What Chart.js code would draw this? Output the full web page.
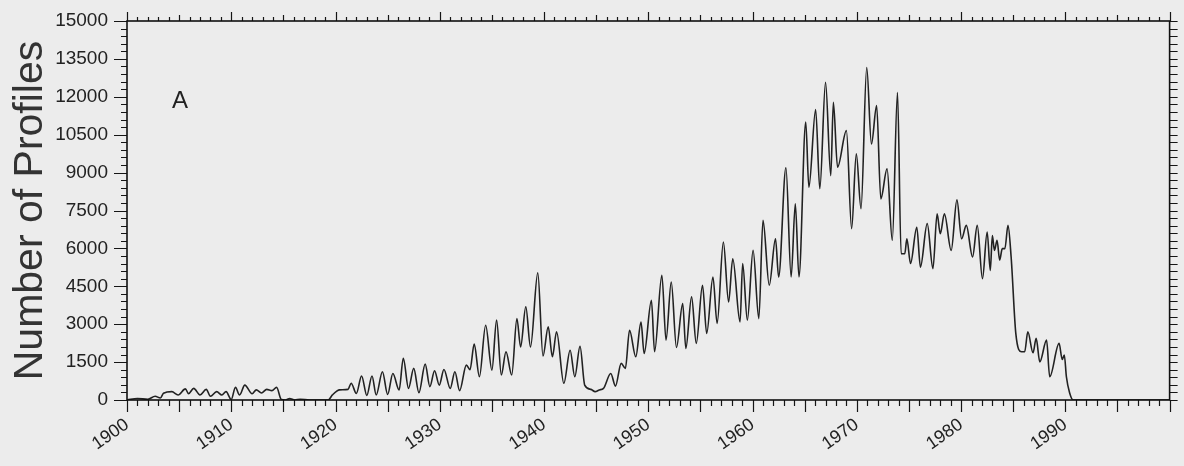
<!DOCTYPE html>
<html>
<head>
<meta charset="utf-8">
<title>Number of Profiles</title>
<script src="https://cdn.jsdelivr.net/npm/chart.js@4.4.1/dist/chart.umd.min.js"></script>
<style>
  html, body { margin: 0; padding: 0; background: #ececec; }
  #wrap { width: 1184px; height: 466px; }
</style>
</head>
<body>
<div id="wrap"><canvas id="chart" width="1184" height="466"></canvas></div>
<script>
// Profile counts, split by period (decimal years / counts)
var earlyYears = [1900.0, 1901.0, 1902.0, 1902.7, 1903.2, 1903.5, 1904.3, 1904.9, 1905.6, 1905.9,
  1906.4, 1907.0, 1907.6, 1908.0, 1908.6, 1909.1, 1909.5, 1910.0, 1910.4, 1910.8,
  1911.3, 1912.0, 1912.4, 1912.9, 1913.4, 1913.9, 1914.35, 1914.8, 1915.2, 1915.6,
  1916.1, 1916.6, 1917.5, 1919.3, 1919.7, 1920.4, 1921.2, 1921.5, 1922.0, 1922.5,
  1923.0, 1923.5, 1923.9, 1924.5, 1925.0, 1925.5, 1926.1];
var earlyCounts = [0, 60, 30, 150, 80, 270, 330, 200, 440, 250,
  460, 200, 420, 150, 330, 200, 330, 20, 500, 200,
  590, 250, 400, 280, 420, 370, 500, 20, 0, 60,
  0, 30, 0, 0, 200, 400, 420, 660, 260, 950,
  180, 950, 200, 1120, 220, 1050, 400];

var interwarYears = [1926.5, 1927.0, 1927.5, 1928.0, 1928.6, 1929.05, 1929.5, 1929.95, 1930.4, 1931.0,
  1931.45, 1931.9, 1932.55, 1932.9, 1933.3, 1933.8, 1934.4, 1935.0, 1935.45, 1935.9,
  1936.35, 1936.9, 1937.4, 1937.75, 1938.25, 1938.7, 1939.4, 1939.9, 1940.4, 1940.8,
  1941.2, 1941.9, 1942.5, 1942.95, 1943.45, 1943.9, 1944.5, 1944.9, 1945.3, 1945.7];
var interwarCounts = [1650, 460, 1250, 290, 1420, 530, 1160, 590, 1210, 460,
  1120, 370, 1380, 1200, 2210, 920, 2960, 1180, 3160, 990,
  1910, 990, 3220, 2100, 3690, 2100, 5030, 1740, 2900, 1710,
  2700, 660, 1970, 920, 2130, 590, 420, 330, 400, 460];

var postwarYears = [1946.4, 1946.85, 1947.4, 1947.8, 1948.2, 1948.8, 1949.3, 1949.6, 1950.3, 1950.6,
  1951.3, 1951.7, 1952.2, 1952.7, 1953.3, 1953.6, 1954.15, 1954.6, 1955.2, 1955.6,
  1956.2, 1956.6, 1957.2, 1957.7, 1958.1, 1958.8, 1959.05, 1959.5, 1960.05, 1960.6,
  1961.0, 1961.6, 1962.2, 1962.5, 1963.2, 1963.7, 1964.1, 1964.45];
var postwarCounts = [1050, 550, 1450, 1250, 2760, 1710, 3090, 1840, 3950, 1910,
  4940, 2370, 4670, 2080, 3820, 2040, 4080, 2240, 4540, 2630,
  4870, 3030, 6250, 3880, 5590, 3090, 5400, 3160, 5920, 3220,
  7110, 4540, 6380, 4870, 9190, 4870, 7770, 4870];

var peakYears = [1965.1, 1965.4, 1966.05, 1966.45, 1967.0, 1967.5, 1967.75, 1968.15, 1969.0, 1969.5,
  1969.95, 1970.4, 1970.95, 1971.4, 1971.9, 1972.3, 1972.9, 1973.4, 1973.9];
var peakCounts = [11000, 8420, 11500, 8360, 12570, 8880, 11780, 9210, 10660, 6780,
  9740, 7570, 13160, 10130, 11650, 7960, 9150, 6320, 12170];

var lateYears = [1974.25, 1974.6, 1974.8, 1975.15, 1975.75, 1976.1, 1976.75, 1977.3, 1977.7, 1978.0,
  1978.4, 1979.05, 1979.6, 1980.05, 1980.5, 1981.1, 1981.55, 1982.05, 1982.5, 1982.8,
  1983.0, 1983.2, 1983.45, 1983.7, 1983.95, 1984.2, 1984.5, 1984.8, 1985.25, 1985.8,
  1986.1, 1986.4, 1986.9, 1987.2, 1987.55, 1988.2, 1988.5, 1989.4, 1989.7, 1989.9,
  1990.1, 1990.4, 1990.75, 1995.0, 2000.0];
var lateCounts = [5790, 5790, 6380, 5400, 6840, 5260, 6980, 5200, 7370, 6580,
  7370, 5920, 7920, 6380, 6910, 5660, 6910, 4800, 6650, 5130,
  6510, 5920, 6320, 5530, 5990, 5990, 6910, 5660, 2630, 1910,
  1910, 2700, 1870, 2440, 1510, 2370, 920, 2240, 1600, 1780,
  920, 300, 0, 0, 0];

// Axis ticks
var yearMin = 1900, yearMax = 2000, decadeStep = 10;
var countMin = 0, countMax = 15000, countStep = 1500, countMinorStep = 300;
var panelLabel = "A";
var yTitle = "Number of Profiles";

var FONT = '"Liberation Sans", Arial, Helvetica, sans-serif';

function toPoints(years, counts) {
  var pts = [];
  for (var i = 0; i < years.length; i++) pts.push({ x: years[i], y: counts[i] });
  return pts;
}

var series = []
  .concat(toPoints(earlyYears, earlyCounts))
  .concat(toPoints(interwarYears, interwarCounts))
  .concat(toPoints(postwarYears, postwarCounts))
  .concat(toPoints(peakYears, peakCounts))
  .concat(toPoints(lateYears, lateCounts));

// Frame, tick marks on all four sides and the panel letter
var framePlugin = {
  id: "frame",
  afterDraw: function (chart) {
    var ctx = chart.ctx;
    var a = chart.chartArea;
    var xs = chart.scales.x, ys = chart.scales.y;
    ctx.save();
    ctx.strokeStyle = "#151515";
    ctx.lineWidth = 1.2;
    ctx.beginPath();
    for (var yr = yearMin; yr <= yearMax; yr++) {
      var px = Math.round(xs.getPixelForValue(yr)) + 0.5;
      var lb = yr % 5 === 0 ? 12 : 6;
      var lt = yr % 10 === 0 ? 9 : (yr % 5 === 0 ? 6 : 4);
      ctx.moveTo(px, a.bottom); ctx.lineTo(px, a.bottom + lb);
      ctx.moveTo(px, a.top); ctx.lineTo(px, a.top - lt);
    }
    for (var v = countMin; v <= countMax; v += countMinorStep) {
      var py = Math.round(ys.getPixelForValue(v)) + 0.5;
      var ll = v % countStep === 0 ? 13 : 6;
      ctx.moveTo(a.left, py); ctx.lineTo(a.left - ll, py);
      ctx.moveTo(a.right, py); ctx.lineTo(a.right + 8, py);
    }
    ctx.stroke();
    ctx.lineWidth = 1.6;
    ctx.strokeStyle = "#111";
    ctx.strokeRect(a.left, a.top, a.right - a.left, a.bottom - a.top);
    ctx.fillStyle = "#222";
    ctx.font = "24px " + FONT;
    ctx.fillText(panelLabel, a.left + 45, a.top + 87);
    ctx.restore();
  }
};

var canvas = document.getElementById("chart");
new Chart(canvas, {
  type: "line",
  data: {
    datasets: [{
      label: yTitle,
      data: series,
      borderColor: "#222",
      borderWidth: 1.6,
      pointRadius: 0,
      fill: false,
      cubicInterpolationMode: "monotone"
    }]
  },
  options: {
    responsive: false,
    animation: false,
    layout: { padding: { top: 21, right: 13, left: 0, bottom: 0 } },
    plugins: {
      legend: { display: false },
      tooltip: { enabled: false },
      title: { display: false }
    },
    scales: {
      x: {
        type: "linear",
        min: yearMin,
        max: yearMax,
        border: { display: false },
        grid: { drawOnChartArea: false, tickLength: 12, tickColor: "rgba(0,0,0,0)" },
        ticks: {
          stepSize: decadeStep,
          autoSkip: false,
          minRotation: 35,
          maxRotation: 35,
          padding: 2,
          color: "#222",
          font: { family: FONT, size: 18 },
          callback: function (value) { return value < yearMax ? String(value) : ""; }
        },
        afterFit: function (scale) { scale.height = 66; }
      },
      y: {
        min: countMin,
        max: countMax,
        border: { display: false },
        grid: { drawOnChartArea: false, tickLength: 12, tickColor: "rgba(0,0,0,0)" },
        ticks: {
          stepSize: countStep,
          padding: 7,
          color: "#222",
          font: { family: FONT, size: 19 },
          callback: function (value) { return String(value); }
        },
        title: {
          display: true,
          text: yTitle,
          color: "#333",
          padding: { top: 6, bottom: 0 },
          font: { family: FONT, size: 41 }
        },
        afterFit: function (scale) { scale.width = 127; }
      }
    }
  },
  plugins: [framePlugin]
});
</script>
</body>
</html>
